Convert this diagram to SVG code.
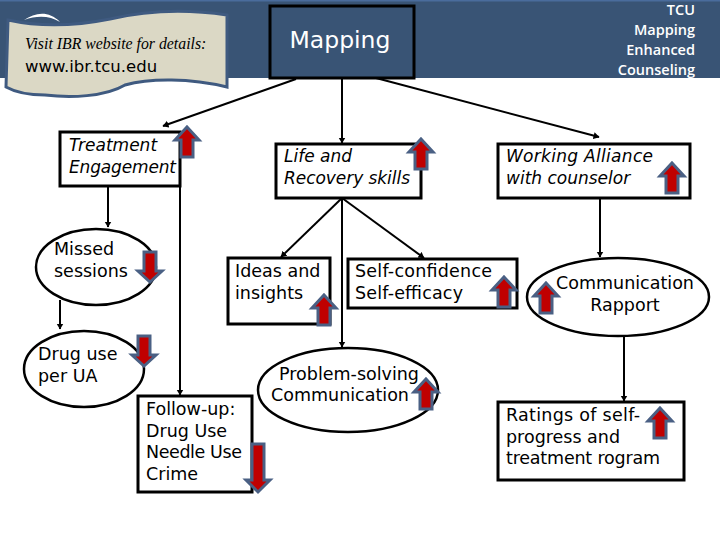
<svg xmlns="http://www.w3.org/2000/svg" width="720" height="540" viewBox="0 0 720 540">
<style>
text{font-family:"DejaVu Sans","Liberation Sans",sans-serif;font-size:17.500px;fill:#000}
.i{font-style:italic;font-size:17px}
.box{fill:#fff;stroke:#000;stroke-width:3}
.el{fill:#fff;stroke:#000;stroke-width:2.500}
.hb{fill:#395475;stroke:#000;stroke-width:3}
.c{fill:none;stroke:#000;stroke-width:2;marker-end:url(#ah)}
.ba{fill:#c00000;stroke:#4a6084;stroke-width:3;stroke-linejoin:miter}
.hd{font-family:"Open Sans","Liberation Sans",sans-serif;font-size:14.500px;font-weight:600;fill:#fff;text-anchor:end}
</style>
<defs>
<marker id="ah" markerUnits="userSpaceOnUse" markerWidth="8" markerHeight="8" refX="5.500" refY="3.500" orient="auto"><path d="M0 0L6 3.500L0 7Z" fill="#000"/></marker>
<path id="up" d="M0 0L12 13H6V30H-6V13H-12Z"/>
<path id="dn" d="M-6 0H6V19H12L0 30L-12 19H-6Z"/>
</defs>
<rect width="720" height="540" fill="#fff"/>
<rect id="header" width="720" height="78" fill="#395475"/>
<rect width="720" height="1.500" fill="#4a6c9c"/>
<g id="banner">
<path d="M8 20C40 27 75 26 110 19C140 12 180 8 227 15V87C190 78 150 78 125 85C105 97 70 98 45 95C30 95 15 92 6 87Z" fill="#dbd8c5" stroke="#3f5a80" stroke-width="3"/>
<path d="M24 20C35 13 48 10 60 22C50 16 38 15 24 20Z" fill="#fff"/>
<text x="25" y="49" style="font-family:'Liberation Serif',serif;font-size:15.800px;font-style:italic">Visit IBR website for details:</text>
<text x="25" y="72" style="font-family:'DejaVu Sans',sans-serif;font-size:16.500px">www.ibr.tcu.edu</text>
</g>
<g id="connectors">
<path class="c" d="M296 79L163 126"/>
<path class="c" d="M342 78V143"/>
<path class="c" d="M376 78L599 137"/>
<path class="c" d="M108 186V227"/>
<path class="c" d="M180 186V395"/>
<path class="c" d="M342 198L281 257"/>
<path class="c" d="M342 198V347"/>
<path class="c" d="M342 198L424 258"/>
<path class="c" d="M600 198V257"/>
<path class="c" d="M60 300V329"/>
<path class="c" d="M624 336V401"/>
</g>
<g id="n-mapping"><rect class="hb" x="270" y="6" width="144" height="72"/><text x="340" y="48" text-anchor="middle" style="font-size:23.500px;fill:#fff">Mapping</text></g>
<g id="n-tcu"><text class="hd" x="695" y="15">TCU</text><text class="hd" x="695" y="35">Mapping</text><text class="hd" x="695" y="55">Enhanced</text><text class="hd" x="695" y="75">Counseling</text></g>
<g id="n-treatment"><rect class="box" x="60" y="132" width="120" height="54"/><text class="i" x="69" y="151">Treatment</text><text class="i" x="69" y="173" textLength="107">Engagement</text><use href="#up" class="ba" x="187" y="127"/></g>
<g id="n-life"><rect class="box" x="276" y="144" width="145" height="54"/><text class="i" x="284" y="162">Life and</text><text class="i" x="284" y="184" textLength="126">Recovery skills</text><use href="#up" class="ba" x="421" y="139"/></g>
<g id="n-working"><rect class="box" x="498" y="144" width="192" height="54"/><text class="i" x="506" y="162" textLength="147">Working Alliance</text><text class="i" x="506" y="184">with counselor</text><use href="#up" class="ba" x="672" y="163"/></g>
<g id="n-missed"><ellipse class="el" cx="96" cy="267" rx="60" ry="38"/><text x="54" y="255">Missed</text><text x="54" y="277">sessions</text><use href="#dn" class="ba" x="150" y="252"/></g>
<g id="n-drug"><ellipse class="el" cx="84" cy="369" rx="60" ry="38"/><text x="38" y="360">Drug use</text><text x="38" y="382">per UA</text><use href="#dn" class="ba" x="144" y="336"/></g>
<g id="n-ideas"><rect class="box" x="228" y="258" width="102" height="66"/><text x="235" y="277">Ideas and</text><text x="235" y="299">insights</text><use href="#up" class="ba" x="324" y="295"/></g>
<g id="n-self"><rect class="box" x="348" y="259" width="169" height="49"/><text x="355" y="277" textLength="137">Self-confidence</text><text x="355" y="299" textLength="108">Self-efficacy</text><use href="#up" class="ba" x="504" y="277"/></g>
<g id="n-comm"><ellipse class="el" cx="618" cy="297" rx="91" ry="39"/><text x="625" y="289" text-anchor="middle">Communication</text><text x="625" y="311" text-anchor="middle">Rapport</text><use href="#up" class="ba" x="546" y="283"/></g>
<g id="n-problem"><ellipse class="el" cx="348" cy="390" rx="90" ry="42"/><text x="349" y="380" text-anchor="middle">Problem-solving</text><text x="340" y="401" text-anchor="middle">Communication</text><use href="#up" class="ba" x="426" y="379"/></g>
<g id="n-followup"><rect class="box" x="138" y="396" width="114" height="96"/><text x="146" y="415">Follow-up:</text><text x="146" y="437">Drug Use</text><text x="146" y="458" textLength="96">Needle Use</text><text x="146" y="480">Crime</text><path class="ba" d="M252 444H264V480H270L258 492L246 480H252Z"/></g>
<g id="n-ratings"><rect class="box" x="498" y="402" width="186" height="78"/><text x="506" y="421" textLength="134">Ratings of self-</text><text x="506" y="443">progress and</text><text x="506" y="464" textLength="154">treatment rogram</text><use href="#up" class="ba" x="660" y="408"/></g>
</svg>
